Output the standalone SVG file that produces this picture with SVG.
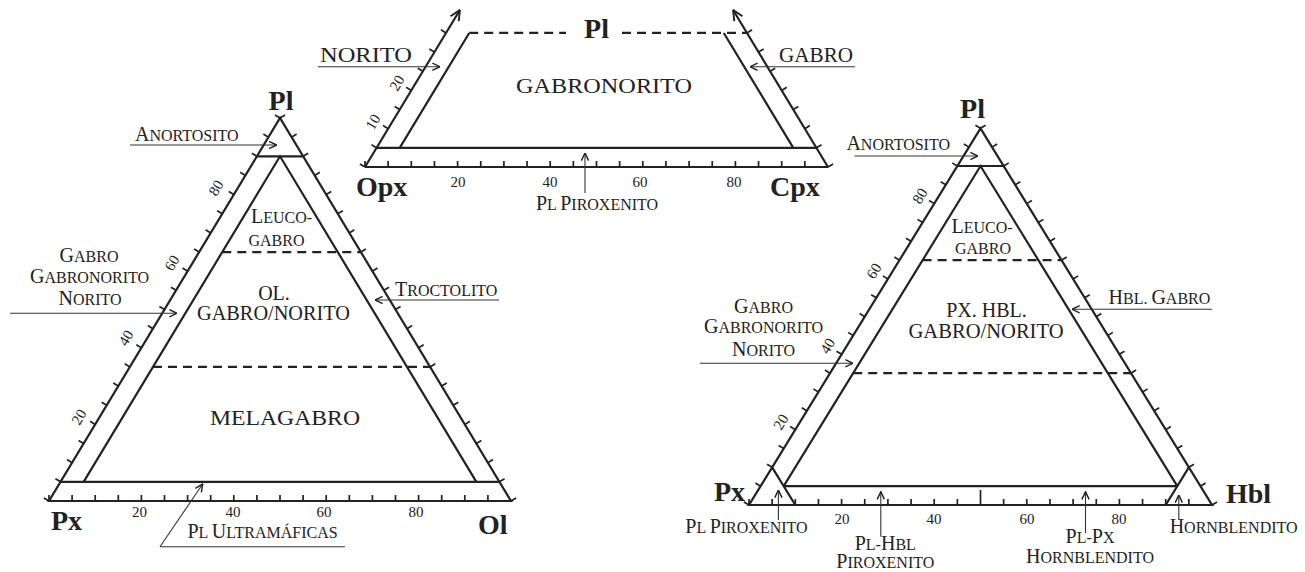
<svg xmlns="http://www.w3.org/2000/svg" width="1305" height="572" viewBox="0 0 1305 572">
<defs>
<style>
.e{fill:none;stroke:#222;stroke-width:2.2}
.tk{fill:none;stroke:#222;stroke-width:1.7}
.d{fill:none;stroke:#222;stroke-width:2.2;stroke-dasharray:9 6}
.a{fill:none;stroke:#333;stroke-width:1.1;marker-end:url(#ah)}
.u{fill:none;stroke:#333;stroke-width:1.1}
.t{font-family:"Liberation Serif","Times New Roman",serif;fill:#222}
.v{font-weight:bold;font-size:28px}
.n{font-size:15px}
.r{font-size:20px}
.sc{font-size:20px}
.s{font-size:16px}
.m{text-anchor:middle}
</style>
<marker id="ah" viewBox="0 0 10 10" refX="9.5" refY="5" markerWidth="9" markerHeight="9" markerUnits="userSpaceOnUse" orient="auto"><path d="M1,1 L9.5,5 L1,9" fill="none" stroke="#222" stroke-width="1.6"/></marker>
<marker id="ab" viewBox="0 0 10 10" refX="9.5" refY="5" markerWidth="12" markerHeight="12" markerUnits="userSpaceOnUse" orient="auto"><path d="M1,1 L9.5,5 L1,9" fill="none" stroke="#222" stroke-width="1.6"/></marker>
</defs>
<rect width="1305" height="572" fill="#fff"/>

<g id="left-triangle">
<polygon class="e" points="49,501 511,501 280,118"/>
<path class="e" d="M60.55,481.85H499.45 M83.65,481.85L280,156.3L476.35,481.85 M256.9,156.3H303.1"/>
<path class="d" d="M222.25,252.05H360.85 M152.95,366.95H430.15"/>
<path class="tk" d="M49,501l-5.1,-3.1 M60.55,481.85l-5.1,-3.1 M72.1,462.7l-5.1,-3.1 M83.65,443.55l-5.1,-3.1 M95.2,424.4l-5.1,-3.1 M106.75,405.25l-5.1,-3.1 M118.3,386.1l-5.1,-3.1 M129.85,366.95l-5.1,-3.1 M141.4,347.8l-5.1,-3.1 M152.95,328.65l-5.1,-3.1 M164.5,309.5l-5.1,-3.1 M176.05,290.35l-5.1,-3.1 M187.6,271.2l-5.1,-3.1 M199.15,252.05l-5.1,-3.1 M210.7,232.9l-5.1,-3.1 M222.25,213.75l-5.1,-3.1 M233.8,194.6l-5.1,-3.1 M245.35,175.45l-5.1,-3.1 M256.9,156.3l-5.1,-3.1 M268.45,137.15l-5.1,-3.1 M280,118l-5.1,-3.1
M511,501l5.1,-3.1 M499.45,481.85l5.1,-3.1 M487.9,462.7l5.1,-3.1 M476.35,443.55l5.1,-3.1 M464.8,424.4l5.1,-3.1 M453.25,405.25l5.1,-3.1 M441.7,386.1l5.1,-3.1 M430.15,366.95l5.1,-3.1 M418.6,347.8l5.1,-3.1 M407.05,328.65l5.1,-3.1 M395.5,309.5l5.1,-3.1 M383.95,290.35l5.1,-3.1 M372.4,271.2l5.1,-3.1 M360.85,252.05l5.1,-3.1 M349.3,232.9l5.1,-3.1 M337.75,213.75l5.1,-3.1 M326.2,194.6l5.1,-3.1 M314.65,175.45l5.1,-3.1 M303.1,156.3l5.1,-3.1 M291.55,137.15l5.1,-3.1 M280,118l5.1,-3.1
M49,501v-6 M72.1,501v-6 M95.2,501v-6 M118.3,501v-6 M141.4,501v-6 M164.5,501v-6 M187.6,501v-6 M210.7,501v-6 M233.8,501v-6 M256.9,501v-6 M280,501v-6 M303.1,501v-6 M326.2,501v-6 M349.3,501v-6 M372.4,501v-6 M395.5,501v-6 M418.6,501v-6 M441.7,501v-6 M464.8,501v-6 M487.9,501v-6"/>
<text class="t v m" x="281" y="110">Pl</text>
<text class="t v" x="51" y="530">Px</text>
<text class="t v" x="478" y="534">Ol</text>
<g class="t n m">
<text x="139.5" y="517">20</text><text x="233" y="517">40</text><text x="324" y="517">60</text><text x="416" y="517">80</text>
<text transform="translate(79,417) rotate(-59)" dy="5">20</text>
<text transform="translate(126,338) rotate(-59)" dy="5">40</text>
<text transform="translate(172,263) rotate(-59)" dy="5">60</text>
<text transform="translate(216,188) rotate(-59)" dy="5">80</text>
</g>
<text class="t sc" x="135" y="141">A<tspan class="s">NORTOSITO</tspan></text>
<text class="t sc m" x="281.5" y="223">L<tspan class="s">EUCO-</tspan></text>
<text class="t s m" x="276.5" y="245.7">GABRO</text>
<text class="t sc m" x="89" y="261.7">G<tspan class="s">ABRO</tspan></text>
<text class="t sc m" x="89.5" y="283.3">G<tspan class="s">ABRONORITO</tspan></text>
<text class="t sc m" x="90" y="305">N<tspan class="s">ORITO</tspan></text>
<text class="t r m" x="274" y="300">OL.</text>
<text class="t r m" x="273.5" y="320" textLength="153" lengthAdjust="spacingAndGlyphs">GABRO/NORITO</text>
<text class="t sc" x="395" y="296">T<tspan class="s">ROCTOLITO</tspan></text>
<text class="t r m" x="285" y="425" textLength="150" lengthAdjust="spacingAndGlyphs">MELAGABRO</text>
<text class="t sc m" x="262.5" y="538">P<tspan class="s">L </tspan>U<tspan class="s">LTRAMÁFICAS</tspan></text>
</g>

<g id="top-trapezoid">
<path class="e" d="M365,167H828"/>
<path class="e" d="M365,167L459.9,10" marker-end="url(#ab)"/>
<path class="e" d="M828,167L733.1,10" marker-end="url(#ab)"/>
<path class="e" d="M376.58,147.85H816.43 M399.7,147.85L469.2,32.95 M793.3,147.85L723.8,32.95"/>
<path class="d" d="M469.2,32.95H566 M622,32.95H746.98"/>
<path class="tk" d="M365,167l-5.1,-3.1 M376.58,147.85l-5.1,-3.1 M388.15,128.7l-5.1,-3.1 M399.73,109.55l-5.1,-3.1 M411.3,90.4l-5.1,-3.1 M422.88,71.25l-5.1,-3.1 M434.45,52.1l-5.1,-3.1 M446.03,32.95l-5.1,-3.1
M828,167l5.1,-3.1 M816.43,147.85l5.1,-3.1 M804.85,128.7l5.1,-3.1 M793.28,109.55l5.1,-3.1 M781.7,90.4l5.1,-3.1 M770.13,71.25l5.1,-3.1 M758.55,52.1l5.1,-3.1 M746.98,32.95l5.1,-3.1
M365,167v-6 M388.15,167v-6 M411.3,167v-6 M434.45,167v-6 M457.6,167v-6 M480.75,167v-6 M503.9,167v-6 M527.05,167v-6 M550.2,167v-6 M573.35,167v-6 M596.5,167v-6 M619.65,167v-6 M642.8,167v-6 M665.95,167v-6 M689.1,167v-6 M712.25,167v-6 M735.4,167v-6 M758.55,167v-6 M781.7,167v-6 M804.85,167v-6"/>
<text class="t v m" x="596.5" y="38">Pl</text>
<text class="t v" x="356" y="196">Opx</text>
<text class="t v" x="770" y="196">Cpx</text>
<g class="t n m">
<text x="458" y="187">20</text><text x="550" y="187">40</text><text x="640" y="187">60</text><text x="734" y="187">80</text>
<text transform="translate(373,122) rotate(-59)" dy="5">10</text>
<text transform="translate(397,83) rotate(-59)" dy="5">20</text>
</g>
<text class="t r" x="320" y="61.7" textLength="92" lengthAdjust="spacingAndGlyphs">NORITO</text>
<text class="t r" x="779" y="61.7" textLength="74" lengthAdjust="spacingAndGlyphs">GABRO</text>
<text class="t m" style="font-size:22px" x="604" y="93" textLength="176" lengthAdjust="spacingAndGlyphs">GABRONORITO</text>
<text class="t sc m" x="597" y="210">P<tspan class="s">L </tspan>P<tspan class="s">IROXENITO</tspan></text>
</g>

<g id="right-triangle">
<polygon class="e" points="749,505 1212,505 980.5,128.3"/>
<path class="e" d="M783.7,486.2H1177.3 M783.7,486.2L980.5,166L1177.3,486.2 M957.35,166H1003.65 M772.15,467.33L795.3,505 M1188.85,467.33L1165.7,505"/>
<path class="d" d="M922.6,260.1H1061.5 M853.2,373.15H1131"/>
<path class="tk" d="M749,505l-5.1,-3.1 M760.58,486.17l-5.1,-3.1 M772.15,467.33l-5.1,-3.1 M783.73,448.5l-5.1,-3.1 M795.3,429.66l-5.1,-3.1 M806.88,410.83l-5.1,-3.1 M818.45,391.99l-5.1,-3.1 M830.03,373.16l-5.1,-3.1 M841.6,354.32l-5.1,-3.1 M853.18,335.49l-5.1,-3.1 M864.75,316.65l-5.1,-3.1 M876.33,297.82l-5.1,-3.1 M887.9,278.98l-5.1,-3.1 M899.48,260.15l-5.1,-3.1 M911.05,241.31l-5.1,-3.1 M922.63,222.48l-5.1,-3.1 M934.2,203.64l-5.1,-3.1 M945.78,184.81l-5.1,-3.1 M957.35,165.97l-5.1,-3.1 M968.93,147.14l-5.1,-3.1 M980.5,128.3l-5.1,-3.1
M1212,505l5.1,-3.1 M1200.43,486.17l5.1,-3.1 M1188.85,467.33l5.1,-3.1 M1177.28,448.5l5.1,-3.1 M1165.7,429.66l5.1,-3.1 M1154.13,410.83l5.1,-3.1 M1142.55,391.99l5.1,-3.1 M1130.98,373.16l5.1,-3.1 M1119.4,354.32l5.1,-3.1 M1107.83,335.49l5.1,-3.1 M1096.25,316.65l5.1,-3.1 M1084.68,297.82l5.1,-3.1 M1073.1,278.98l5.1,-3.1 M1061.53,260.15l5.1,-3.1 M1049.95,241.31l5.1,-3.1 M1038.38,222.48l5.1,-3.1 M1026.8,203.64l5.1,-3.1 M1015.23,184.81l5.1,-3.1 M1003.65,165.97l5.1,-3.1 M992.08,147.14l5.1,-3.1 M980.5,128.3l5.1,-3.1
M749,505v-6 M772.15,505v-6 M795.3,505v-6 M818.45,505v-6 M841.6,505v-6 M864.75,505v-6 M887.9,505v-6 M911.05,505v-6 M934.2,505v-6 M957.35,505v-6 M980.5,505v-15 M1003.65,505v-6 M1026.8,505v-6 M1049.95,505v-6 M1073.1,505v-6 M1096.25,505v-6 M1119.4,505v-6 M1142.55,505v-6 M1165.7,505v-6 M1188.85,505v-6"/>
<text class="t v m" x="972.5" y="118">Pl</text>
<text class="t v" x="745" y="501" style="text-anchor:end">Px</text>
<text class="t v" x="1226" y="503">Hbl</text>
<g class="t n m">
<text x="842" y="524">20</text><text x="934" y="524">40</text><text x="1027" y="524">60</text><text x="1119" y="524">80</text>
<text transform="translate(781,422) rotate(-58.5)" dy="5">20</text>
<text transform="translate(827.6,346) rotate(-58.5)" dy="5">40</text>
<text transform="translate(874,271) rotate(-58.5)" dy="5">60</text>
<text transform="translate(920,196) rotate(-58.5)" dy="5">80</text>
</g>
<text class="t sc" x="846.4" y="150">A<tspan class="s">NORTOSITO</tspan></text>
<text class="t sc m" x="982" y="233.3">L<tspan class="s">EUCO-</tspan></text>
<text class="t s m" x="983" y="254">GABRO</text>
<text class="t sc" x="1108.5" y="304">H<tspan class="s">BL. </tspan>G<tspan class="s">ABRO</tspan></text>
<text class="t r m" x="986.5" y="317.3">PX. HBL.</text>
<text class="t r m" x="986" y="338.3" textLength="155" lengthAdjust="spacingAndGlyphs">GABRO/NORITO</text>
<text class="t sc m" x="763.5" y="312.7">G<tspan class="s">ABRO</tspan></text>
<text class="t sc m" x="763.5" y="333.3">G<tspan class="s">ABRONORITO</tspan></text>
<text class="t sc m" x="763.5" y="356">N<tspan class="s">ORITO</tspan></text>
<text class="t sc" x="807.6" y="533.3" style="text-anchor:end">P<tspan class="s">L </tspan>P<tspan class="s">IROXENITO</tspan></text>
<text class="t sc m" x="885.3" y="550">P<tspan class="s">L-</tspan>H<tspan class="s">BL</tspan></text>
<text class="t sc m" x="885.3" y="568">P<tspan class="s">IROXENITO</tspan></text>
<text class="t sc m" x="1090" y="543.3">P<tspan class="s">L-</tspan>P<tspan class="s">X</tspan></text>
<text class="t sc m" x="1090" y="562.7">H<tspan class="s">ORNBLENDITO</tspan></text>
<text class="t sc m" x="1233.6" y="533.3">H<tspan class="s">ORNBLENDITO</tspan></text>
</g>

<g id="connectors">
<path class="a" d="M130,145H276.7"/>
<path class="a" d="M10,313.3H177"/>
<path class="a" d="M499,300H375"/>
<path class="u" d="M160,546.7H345"/>
<path class="a" d="M160,546.7L202.7,484"/>
<path class="a" d="M318,66.7H440"/>
<path class="a" d="M855,66.7H750"/>
<path class="a" d="M585,193V153"/>
<path class="a" d="M854.5,156H978"/>
<path class="a" d="M1212,309.3H1072"/>
<path class="a" d="M700,363.3H853"/>
<path class="a" d="M778.4,520V490"/>
<path class="a" d="M880.8,536.7V491.7"/>
<path class="a" d="M1085.5,533V491.7"/>
<path class="a" d="M1178.8,520V495"/>
</g>
</svg>
